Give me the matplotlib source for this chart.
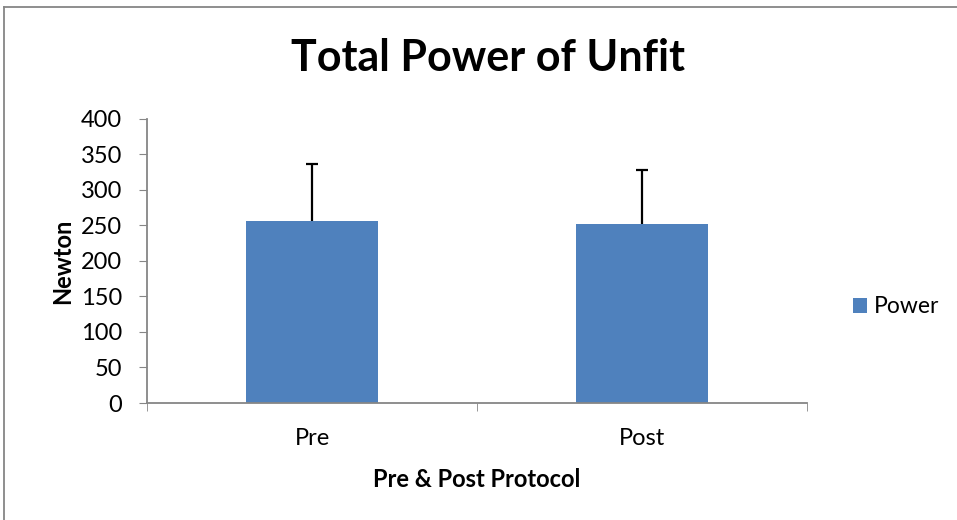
import matplotlib.pyplot as plt
from matplotlib.lines import Line2D

plt.rcParams['font.family'] = ['Lato', 'DejaVu Sans']

categories = ['Pre', 'Post']
power = [256, 252]
power_err = [80, 76]
y_ticks = [0, 50, 100, 150, 200, 250, 300, 350, 400]

bar_color = '#4F81BD'
axis_color = '#868686'

fig = plt.figure(figsize=(9.57, 5.2), dpi=100)
ax = fig.add_axes([0.1536, 0.225, 0.6897, 0.5462])

x = list(range(len(categories)))
ax.bar(x, power, width=0.4, color=bar_color, label='Power', zorder=2)
eb = ax.errorbar(x, power, yerr=[[0] * len(power_err), power_err], fmt='none',
                 ecolor='black', elinewidth=1.6, capsize=4.5, capthick=1.6, zorder=3)
eb[1][0].set_visible(False)  # no cap at the bar top

ax.set_xlim(-0.5, 1.5)
ax.set_ylim(0, 400)
ax.set_yticks(y_ticks)
ax.tick_params(axis='y', labelsize=17, length=6, color=axis_color, pad=12)
ax.set_xticks(x)
ax.set_xticklabels(categories)
ax.tick_params(axis='x', which='major', length=0, labelsize=17, pad=18)
ax.set_xticks([-0.5, 0.5, 1.5], minor=True)
ax.tick_params(axis='x', which='minor', length=6, color=axis_color)

for side in ['top', 'right']:
    ax.spines[side].set_visible(False)
for side in ['left', 'bottom']:
    ax.spines[side].set_color(axis_color)
    ax.spines[side].set_linewidth(1.3)

ax.set_ylabel('Newton', fontsize=17, fontweight='bold', labelpad=4.5)
ax.set_xlabel('Pre & Post Protocol', fontsize=17, fontweight='bold', labelpad=13.5)
fig.text(0.51, 0.888, 'Total Power of Unfit', fontsize=31, fontweight='bold',
         ha='center', va='center')

ax.legend(loc='center left', bbox_to_anchor=(1.0, 0.338), frameon=False,
          fontsize=16.5, handlelength=0.6, handleheight=0.6, handletextpad=0.3,
          borderaxespad=1.6)

# chart area border (only top and left visible in the crop)
fig.add_artist(Line2D([4 / 957, 1], [1 - 7 / 520, 1 - 7 / 520],
                      transform=fig.transFigure, color=axis_color, lw=1.3))
fig.add_artist(Line2D([4 / 957, 4 / 957], [0, 1 - 7 / 520],
                      transform=fig.transFigure, color=axis_color, lw=1.3))

fig.savefig('out.png', dpi=100)
